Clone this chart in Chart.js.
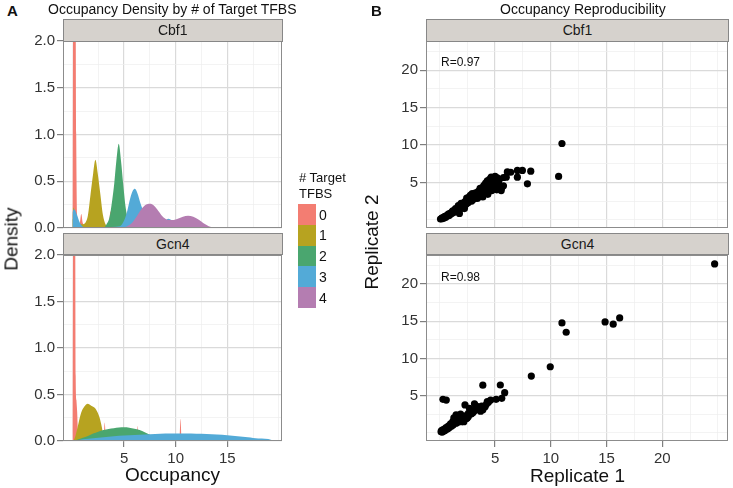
<!DOCTYPE html>
<html><head><meta charset="utf-8">
<script src="https://cdn.jsdelivr.net/npm/chart.js@4.4.0/dist/chart.umd.min.js"></script>
<style>
html,body{margin:0;padding:0;background:#fff;overflow:hidden;width:733px;height:488px;font-family:"Liberation Sans",Arial,sans-serif;}
#wrap{position:relative;width:733px;height:488px;}
canvas{position:absolute;}
.t{position:absolute;white-space:nowrap;color:#111;line-height:1;}
.strip{position:absolute;background:#D6D2CD;border:1px solid #878787;box-sizing:border-box;text-align:center;font-size:14px;color:#1a1a1a;}
.key{position:absolute;width:18px;height:21px;}
.rot{position:absolute;white-space:nowrap;line-height:1;color:#111;transform:translate(-50%,-50%) rotate(-90deg);}
</style></head>
<body><div id="wrap">
<canvas id="aTop" width="290" height="210" style="left:0;top:30px"></canvas>
<canvas id="aBot" width="290" height="236" style="left:0;top:244px"></canvas>
<canvas id="bTop" width="362" height="210" style="left:370px;top:30px"></canvas>
<canvas id="bBot" width="362" height="236" style="left:370px;top:244px"></canvas>
</div>
<script>
// ---------------- data ----------------
const facets = ['Cbf1', 'Gcn4'];
const tfbsCategories = ['0', '1', '2', '3', '4'];
const panelTitles = ['Occupancy Density by # of Target TFBS', 'Occupancy Reproducibility'];
const legendTitle = ['# Target', 'TFBS'];
const rLabels = ['R=0.97', 'R=0.98'];

// density curves: [occupancy, density]
const cbf1Occ0 = [[0,0],[0.03,1.5],[0.1,2.6],[0.28,2.6],[0.36,1.0],[0.44,0.15],[0.55,0.04],[0.7,0.05],[0.85,0.15],[1.0,0.05],[1.3,0.02],[2.0,0.01],[3.45,0.02],[3.7,0.18],[3.95,0.03],[5,0.01],[6,0]];
const cbf1Occ1 = [[0,0.12],[0.1,0.22],[0.3,0.13],[0.6,0.06],[1.0,0.04],[1.2,0.05],[1.5,0.14],[1.75,0.36],[2.0,0.58],[2.22,0.73],[2.45,0.58],[2.7,0.36],[2.95,0.14],[3.2,0.04],[3.6,0]];
const cbf1Occ2 = [[0,0.1],[0.3,0.05],[1,0.01],[3.0,0],[3.3,0.04],[3.6,0.12],[3.85,0.3],[4.05,0.48],[4.25,0.72],[4.48,0.9],[4.7,0.72],[4.92,0.46],[5.15,0.22],[5.4,0.08],[5.7,0.02],[6.0,0]];
const cbf1Occ3 = [[0,0.17],[0.15,0.2],[0.4,0.15],[0.7,0.06],[1.1,0.01],[3,0.01],[4.6,0.02],[5.0,0.08],[5.3,0.18],[5.6,0.32],[5.85,0.4],[6.05,0.42],[6.3,0.37],[6.6,0.26],[7.0,0.15],[7.5,0.1],[8.2,0.08],[8.9,0.08],[9.3,0.1],[9.6,0.085],[10,0.05],[10.8,0.02],[12,0]];
const cbf1Occ4 = [[4.8,0],[5.3,0.02],[5.8,0.06],[6.2,0.12],[6.6,0.19],[7.0,0.24],[7.4,0.26],[7.8,0.25],[8.2,0.2],[8.6,0.14],[9.0,0.1],[9.5,0.085],[9.8,0.086],[10.2,0.1],[10.7,0.12],[11.2,0.13],[11.7,0.12],[12.2,0.09],[12.7,0.05],[13.2,0.02],[13.8,0.005],[14.5,0]];
const gcn4Occ0 = [[0,0],[0.03,1.5],[0.1,2.6],[0.25,2.5],[0.31,0.7],[0.38,0.44],[0.45,0.32],[0.55,0.04],[0.8,0.01],[3.0,0.01],[3.12,0.2],[3.25,0.01],[6.2,0.01],[6.3,0.16],[6.4,0.01],[10.37,0.01],[10.47,0.24],[10.57,0.01],[11,0]];
const gcn4Occ1 = [[0.1,0],[0.3,0.06],[0.5,0.15],[0.83,0.3],[1.15,0.37],[1.48,0.4],[1.75,0.385],[1.96,0.37],[2.28,0.34],[2.6,0.26],[2.86,0.14],[3.0,0.04],[3.15,0]];
const gcn4Occ2 = [[0.15,0],[0.5,0.015],[1,0.035],[1.5,0.055],[2,0.08],[2.5,0.1],[3,0.118],[3.5,0.13],[4,0.138],[4.5,0.145],[5,0.147],[5.5,0.143],[6,0.133],[6.5,0.118],[7,0.095],[7.4,0.072],[7.8,0.05],[8.3,0.02],[9,0]];
const gcn4Occ3 = [[0.1,0],[0.5,0.008],[1,0.018],[2,0.03],[3,0.04],[4,0.05],[5,0.058],[6,0.065],[7,0.07],[8,0.076],[9,0.08],[10,0.081],[11,0.08],[12,0.078],[13,0.075],[14,0.07],[15,0.062],[16,0.052],[17,0.04],[18,0.027],[19.3,0.012],[19.32,0]];

// replicate scatter: [replicate 1, replicate 2]
const cbf1Replicates = [[0.1,0.1],[0.2,0.15],[0.25,0.25],[0.35,0.2],[0.4,0.35],[0.5,0.45],[0.55,0.3],[0.65,0.55],[0.75,0.5],[0.8,0.75],[0.9,0.6],[0.95,0.85],[1.05,0.8],[1.1,1.0],[1.2,0.9],[1.2,1.2],[1.25,1.15],[1.35,1.05],[1.4,1.3],[1.45,1.5],[1.5,1.1],[1.55,1.45],[1.6,1.25],[1.7,1.6],[1.7,1.9],[1.75,1.35],[1.8,0.85],[1.85,1.7],[1.9,1.5],[1.95,2.2],[2.0,1.9],[2.05,1.6],[2.1,2.1],[2.15,1.75],[2.2,2.3],[2.25,1.5],[2.3,1.9],[2.35,2.5],[2.4,2.1],[2.45,2.9],[2.5,2.7],[2.55,2.25],[2.6,2.9],[2.65,2.45],[2.7,3.1],[2.75,2.6],[2.8,3.3],[2.85,2.8],[2.9,2.5],[2.95,3.5],[3.0,3.1],[3.05,2.75],[3.1,3.35],[3.2,2.9],[3.25,3.6],[3.3,3.1],[3.4,2.85],[3.45,3.4],[3.5,3.8],[3.55,3.05],[3.6,3.6],[3.65,4.2],[3.7,4.0],[3.75,3.3],[3.8,3.7],[3.85,4.3],[3.9,3.05],[3.95,3.9],[4.0,4.6],[4.05,3.5],[4.1,4.2],[4.15,4.9],[4.2,3.8],[4.25,4.4],[4.3,5.2],[4.35,3.4],[4.4,4.7],[4.45,4.0],[4.5,5.4],[4.55,4.3],[4.6,4.9],[4.65,5.7],[4.7,3.9],[4.75,4.5],[4.8,5.2],[4.85,4.1],[4.9,5.5],[4.95,4.7],[5.0,5.8],[5.05,4.4],[5.1,5.1],[5.15,4.0],[5.2,5.6],[5.3,4.8],[5.35,5.3],[5.45,4.5],[5.55,3.9],[5.6,4.3],[5.75,4.55],[5.75,5.65],[6.0,5.7],[6.1,6.4],[6.4,6.35],[7.0,6.6],[7.0,5.7],[7.45,6.6],[7.9,4.8],[8.2,6.5],[10.7,5.8],[11.0,10.2]];
const gcn4Replicates = [[0.15,0.15],[0.2,0.3],[0.25,0.1],[0.3,0.4],[0.35,0.2],[0.45,0.5],[0.5,0.3],[0.6,0.7],[0.7,0.5],[0.75,0.55],[0.8,0.9],[0.9,0.7],[1.0,1.2],[1.05,1.0],[1.1,0.9],[1.2,1.5],[1.25,1.1],[1.3,2.0],[1.4,1.7],[1.5,2.4],[1.5,1.3],[1.6,1.4],[1.7,2.1],[1.8,2.2],[1.8,1.8],[1.9,2.5],[1.95,1.5],[2.0,1.6],[2.1,2.2],[2.2,1.9],[2.2,1.5],[2.3,3.75],[2.4,2.3],[2.4,1.9],[2.5,2.0],[2.6,2.6],[2.6,2.2],[2.7,3.3],[2.8,2.5],[2.9,3.0],[2.9,2.6],[3.0,2.7],[3.1,2.9],[3.15,3.9],[3.3,3.2],[3.3,3.6],[3.45,3.5],[3.5,3.1],[3.6,3.3],[3.7,2.9],[3.8,3.6],[3.9,3.1],[3.9,6.4],[4.1,3.5],[4.2,3.8],[4.3,4.2],[4.4,4.1],[4.6,4.4],[5.09,4.5],[0.32,4.5],[0.62,4.4],[5.47,6.43],[5.6,4.64],[5.86,5.4],[8.25,7.63],[9.95,8.88],[11.0,14.77],[11.38,13.52],[14.87,14.9],[15.6,14.6],[16.18,15.44],[24.7,22.7]];

// axis ticks
const densityXGrid = [0,2.5,5,7.5,10,12.5,15,17.5,20];
const densityXLabels = [5,10,15];
const densityYGrid = [0,0.25,0.5,0.75,1,1.25,1.5,1.75,2];
const densityYLabels = [0,0.5,1,1.5,2];
const repGrid = [0,2.5,5,7.5,10,12.5,15,17.5,20,22.5,25];
const repLabels = [5,10,15,20];

// ---------------- styles ----------------
const tfbsColors = ['#F37D72','#B7A320','#4AA66F','#53AAD7','#B47DB1'];
const FONT = '"Liberation Sans", Arial, sans-serif';
const MAJOR = '#DADADA', MINOR = '#EEEEEE';

const panelBorder = {
  id: 'panelBorder',
  afterDraw(chart) {
    const {ctx, chartArea: a} = chart;
    ctx.save(); ctx.strokeStyle = '#8C8C8C'; ctx.lineWidth = 1;
    ctx.strokeRect(Math.round(a.left) + 0.5, Math.round(a.top) + 0.5, Math.round(a.right - a.left) - 1, Math.round(a.bottom - a.top) - 1);
    ctx.restore();
  }
};

function axis(o) {
  const isMajor = v => o.labels.some(m => Math.abs(m - v) < 1e-6);
  return {
    type: 'linear', min: o.min, max: o.max, position: o.position,
    afterBuildTicks: s => { s.ticks = o.grid.filter(v => v >= o.min - 1e-9 && v <= o.max + 1e-9).map(v => ({value: v})); },
    afterFit: s => { if (o.position === 'left') s.width = o.size; else s.height = o.size; },
    border: {display: false},
    grid: {
      color: c => (c.tick && isMajor(c.tick.value)) ? MAJOR : MINOR,
      lineWidth: c => (c.tick && isMajor(c.tick.value)) ? 1.2 : 0.7,
      drawTicks: o.show, tickLength: o.show ? 6 : 0,
      tickColor: c => (o.show && c.tick && isMajor(c.tick.value)) ? '#7F7F7F' : 'rgba(0,0,0,0)'
    },
    ticks: {
      display: o.show, autoSkip: false, maxRotation: 0, padding: o.pad,
      font: {family: FONT, size: 15}, color: '#333',
      callback: v => isMajor(v) ? o.fmt(v) : ''
    }
  };
}

function baseOpts(padding, x, y) {
  return {
    responsive: false, animation: false, events: [],
    layout: {padding},
    plugins: {legend: {display: false}, tooltip: {enabled: false}},
    scales: {x, y}
  };
}

function densityChart(id, series, showX, padding) {
  return new Chart(document.getElementById(id), {
    type: 'line',
    data: {datasets: series.map((pts, i) => ({
      data: pts.map(p => ({x: p[0], y: p[1]})),
      backgroundColor: tfbsColors[i], borderColor: tfbsColors[i], borderWidth: 0,
      pointRadius: 0, fill: 'origin', cubicInterpolationMode: 'monotone', order: 10 - i
    }))},
    options: baseOpts(padding,
      axis({min: -0.92, max: 20.3, position: 'bottom', grid: densityXGrid, labels: densityXLabels, show: showX, size: showX ? 30 : 0, pad: 3, fmt: v => String(v)}),
      axis({min: 0, max: 2, position: 'left', grid: densityYGrid, labels: densityYLabels, show: true, size: 63, pad: 2, fmt: v => v.toFixed(1)})),
    plugins: [panelBorder]
  });
}

function replicateChart(id, pts, showX, padding) {
  return new Chart(document.getElementById(id), {
    type: 'scatter',
    data: {datasets: [{data: pts.map(p => ({x: p[0], y: p[1]})), backgroundColor: '#000', borderWidth: 0, pointRadius: 3.6}]},
    options: baseOpts(padding,
      axis({min: -1.2, max: 25.9, position: 'bottom', grid: repGrid, labels: repLabels, show: showX, size: showX ? 30 : 0, pad: 3, fmt: v => String(v)}),
      axis({min: -1.1, max: 23.9, position: 'left', grid: repGrid, labels: repLabels, show: true, size: 56, pad: 2, fmt: v => String(v)})),
    plugins: [panelBorder]
  });
}

densityChart('aTop', [cbf1Occ0, cbf1Occ1, cbf1Occ2, cbf1Occ3, cbf1Occ4], false, {left: 0, right: 8, top: 11, bottom: 12});
densityChart('aBot', [gcn4Occ0, gcn4Occ1, gcn4Occ2, gcn4Occ3], true, {left: 0, right: 8, top: 10, bottom: 9});
replicateChart('bTop', cbf1Replicates, false, {left: 0, right: 3, top: 11, bottom: 12});
replicateChart('bBot', gcn4Replicates, true, {left: 0, right: 3, top: 10, bottom: 9});

// ---------------- text & decorations ----------------
const wrap = document.getElementById('wrap');
function txt(s, left, baseline, size, extra) {
  const d = document.createElement('div');
  d.className = 't'; d.textContent = s;
  d.style.left = left + 'px'; d.style.top = (baseline - 0.8465 * size) + 'px'; d.style.fontSize = size + 'px';
  if (extra) Object.assign(d.style, extra);
  wrap.appendChild(d); return d;
}
function ctxt(s, cx, baseline, size) {
  return txt(s, cx - 150, baseline, size, {width: '300px', textAlign: 'center'});
}
function rot(s, cx, cy, size) {
  const d = document.createElement('div');
  d.className = 'rot'; d.textContent = s;
  d.style.left = cx + 'px'; d.style.top = cy + 'px'; d.style.fontSize = size + 'px';
  wrap.appendChild(d);
}
function strip(s, l, t, w, h) {
  const d = document.createElement('div');
  d.className = 'strip'; d.textContent = s;
  Object.assign(d.style, {left: l + 'px', top: t + 'px', width: w + 'px', height: h + 'px', lineHeight: (h - 2) + 'px'});
  wrap.appendChild(d);
}

txt('A', 7, 16, 15, {fontWeight: 'bold'});
txt('B', 371, 16, 15, {fontWeight: 'bold'});
txt(panelTitles[0], 48, 14, 14);
txt(panelTitles[1], 500, 14, 14);

strip(facets[0], 63, 19, 219.5, 22.5);
strip(facets[1], 63, 232.5, 219.5, 22.5);
strip(facets[0], 426, 19, 303, 22.5);
strip(facets[1], 426, 232.5, 303, 22.5);

ctxt('Occupancy', 172.5, 481, 19);
ctxt('Replicate 1', 577.5, 482, 19);
rot('Density', 10.5, 239, 19);
rot('Replicate 2', 370.5, 242, 19);

txt(rLabels[0], 441, 66.5, 12);
txt(rLabels[1], 441, 281, 12);

txt(legendTitle[0], 299, 182, 13);
txt(legendTitle[1], 299, 198, 13);
tfbsCategories.forEach((c, i) => {
  const k = document.createElement('div');
  k.className = 'key';
  Object.assign(k.style, {left: '298px', top: (204 + i * 20.8) + 'px', height: '20.8px', background: tfbsColors[i]});
  wrap.appendChild(k);
  txt(c, 319, 204 + i * 20.8 + 15.5, 14);
});
</script>
</body></html>
